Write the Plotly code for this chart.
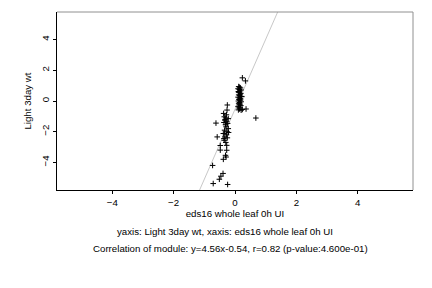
import plotly.graph_objects as go

# upper cluster (x ~ 0.1)
x_up = [0.24, 0.34, 0.12, 0.15, 0.18, 0.10, 0.14, 0.20, 0.16, 0.11, 0.13, 0.19, 0.17, 0.12, 0.15, 0.21, 0.10, 0.14,
        0.18, 0.13, 0.16, 0.11, 0.20, 0.15, 0.12, 0.17, 0.14, 0.19, 0.10, 0.16, 0.13, 0.22, 0.18, 0.12, 0.15,
        0.11, 0.24, 0.36, 0.20, 0.68]
y_up = [1.51, 1.31, 0.94, 0.90, 0.85, 0.80, 0.75, 0.72, 0.66, 0.60, 0.55, 0.50, 0.45, 0.40, 0.35, 0.30, 0.25, 0.20,
        0.15, 0.10, 0.05, 0.00, -0.05, -0.10, -0.15, -0.20, -0.25, -0.30, -0.35, -0.40, -0.45, 0.28, 0.07, 0.62,
        -0.52, -0.58, -0.55, -0.52, -0.60, -1.11]
# lower cluster (x ~ -0.3)
x_lo = [-0.25, -0.26, -0.37, -0.28, -0.35, -0.30, -0.22, -0.33, -0.27, -0.36, -0.24, -0.31, -0.29, -0.22,
        -0.34, -0.26, -0.38, -0.28, -0.33, -0.25, -0.35, -0.30, -0.27, -0.62, -0.58, -0.48, -0.48, -0.38,
        -0.27, -0.31, -0.29, -0.73, -0.39, -0.46, -0.51, -0.71, -0.24, -0.32, -0.21, -0.36]
y_lo = [-0.26, -0.59, -0.81, -0.90, -1.03, -1.10, -1.15, -1.25, -1.35, -1.40, -1.46, -1.55, -1.68, -1.80,
        -1.90, -2.00, -2.12, -2.20, -2.34, -2.40, -2.56, -2.70, -2.89, -1.44, -2.34, -2.90, -3.20, -3.80,
        -3.21, -3.54, -3.65, -4.20, -4.72, -4.90, -5.10, -5.38, -5.44, -1.20, -2.05, -2.45]

xs = x_up + x_lo
ys = y_up + y_lo

slope = 4.56
intercept = -0.54
rng = [-5.8, 5.8]

xticks = [-4, -2, 0, 2, 4]
yticks = [-4, -2, 0, 2, 4]

line_x = [(rng[0] - intercept) / slope, (rng[1] - intercept) / slope]
line_y = [slope * v + intercept for v in line_x]

font = "Liberation Sans, Arial, sans-serif"
fs = 9.7

fig = go.Figure()
fig.add_trace(go.Scatter(x=line_x, y=line_y, mode="lines",
                         line=dict(color="#c8c8c8", width=1), hoverinfo="skip"))
fig.add_trace(go.Scatter(x=xs, y=ys, mode="markers",
                         marker=dict(symbol="cross-thin", size=4, color="black",
                                     line=dict(color="black", width=1))))

fig.update_layout(
    width=432, height=288,
    margin=dict(l=57, r=19, t=12, b=98),
    paper_bgcolor="white", plot_bgcolor="white",
    showlegend=False,
    font=dict(family=font, size=fs, color="black"),
    xaxis=dict(range=rng, tickvals=xticks, ticks="outside", ticklen=3, tickcolor="black",
               showgrid=False, zeroline=False, showline=True, linecolor="black", linewidth=1,
               mirror=False, title=dict(text="eds16 whole leaf 0h UI", font=dict(size=fs), standoff=3),
               tickfont=dict(size=fs)),
    yaxis=dict(range=rng, tickvals=yticks, ticks="outside", ticklen=3, tickcolor="black",
               showgrid=False, zeroline=False, showline=True, linecolor="black", linewidth=1,
               tickangle=-90, title=dict(text="Light 3day wt", font=dict(size=fs), standoff=6),
               tickfont=dict(size=fs)),
    shapes=[
        dict(type="line", xref="paper", yref="paper", x0=0, x1=1, y0=1, y1=1,
             line=dict(color="#909090", width=1)),
        dict(type="line", xref="paper", yref="paper", x0=1, x1=1, y0=0, y1=1,
             line=dict(color="#909090", width=1)),
    ],
    annotations=[
        dict(text="yaxis: Light 3day wt, xaxis: eds16 whole leaf 0h UI", xref="paper", yref="paper",
             x=0.472, y=-0.235, yanchor="middle", showarrow=False, font=dict(size=fs)),
        dict(text="Correlation of module: y=4.56x-0.54, r=0.82 (p-value:4.600e-01)", xref="paper",
             yref="paper", x=0.486, y=-0.33, yanchor="middle", showarrow=False, font=dict(size=fs)),
    ],
)

fig.write_html("out.html")
